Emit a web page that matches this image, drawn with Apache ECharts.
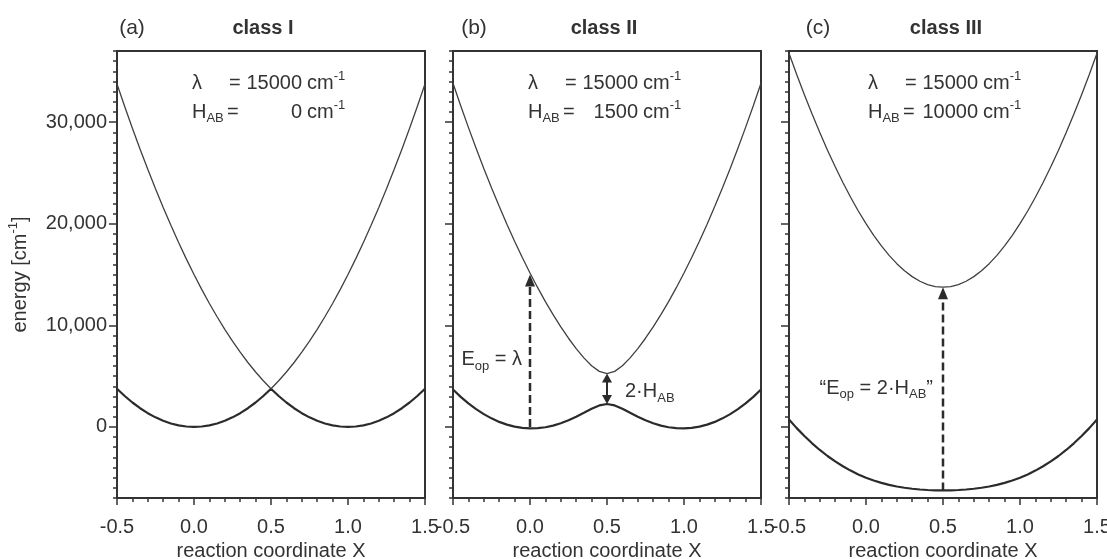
<!DOCTYPE html>
<html>
<head>
<meta charset="utf-8">
<script src="https://cdn.jsdelivr.net/npm/echarts@6/dist/echarts.min.js"></script>
<style>
  html, body { margin: 0; padding: 0; background: #fff; }
  #main { width: 1107px; height: 559px; }
</style>
</head>
<body>
<div id="main"></div>
<script>
// reaction coordinate X
const xValues = [-0.5, -0.45, -0.4, -0.35, -0.3, -0.25, -0.2, -0.15, -0.1, -0.05, 0,
  0.05, 0.1, 0.15, 0.2, 0.25, 0.3, 0.35, 0.4, 0.45, 0.5,
  0.55, 0.6, 0.65, 0.7, 0.75, 0.8, 0.85, 0.9, 0.95, 1,
  1.05, 1.1, 1.15, 1.2, 1.25, 1.3, 1.35, 1.4, 1.45, 1.5];

// (a) class I, H_AB = 0
const classILower = [3750, 3038, 2400, 1838, 1350, 938, 600, 338, 150, 38, 0,
  38, 150, 338, 600, 938, 1350, 1838, 2400, 3038, 3750,
  3038, 2400, 1838, 1350, 938, 600, 338, 150, 38, 0,
  38, 150, 338, 600, 938, 1350, 1838, 2400, 3038, 3750];
const classIUpper = [33750, 31538, 29400, 27338, 25350, 23438, 21600, 19838, 18150, 16538, 15000,
  13538, 12150, 10838, 9600, 8438, 7350, 6338, 5400, 4538, 3750,
  4538, 5400, 6338, 7350, 8438, 9600, 10838, 12150, 13538, 15000,
  16538, 18150, 19838, 21600, 23438, 25350, 27338, 29400, 31538, 33750];

// (b) class II, H_AB = 1500
const classIILower = [3675, 2959, 2317, 1750, 1257, 838, 493, 223, 26, -98, -149,
  -127, -35, 127, 357, 649, 996, 1383, 1779, 2110, 2250,
  2110, 1779, 1383, 996, 649, 357, 127, -35, -127, -149,
  -98, 26, 223, 493, 838, 1257, 1750, 2317, 2959, 3675];
const classIIUpper = [33825, 31616, 29483, 27425, 25443, 23537, 21707, 19952, 18274, 16673, 15149,
  13702, 12335, 11048, 9843, 8726, 7704, 6792, 6021, 5465, 5250,
  5465, 6021, 6792, 7704, 8726, 9843, 11048, 12335, 13702, 15149,
  16673, 18274, 19952, 21707, 23537, 25443, 27425, 29483, 31616, 33825];

// (c) class III, H_AB = 10000
const classIIILower = [722, -121, -900, -1616, -2271, -2865, -3400, -3879, -4304, -4676, -5000,
  -5277, -5512, -5707, -5866, -5993, -6090, -6163, -6212, -6241, -6250,
  -6241, -6212, -6163, -6090, -5993, -5866, -5707, -5512, -5277, -5000,
  -4676, -4304, -3879, -3400, -2865, -2271, -1616, -900, -121, 722];
const classIIIUpper = [36778, 34696, 32700, 30791, 28971, 27240, 25600, 24054, 22604, 21251, 20000,
  18852, 17812, 16882, 16066, 15368, 14790, 14338, 14012, 13816, 13750,
  13816, 14012, 14338, 14790, 15368, 16066, 16882, 17812, 18852, 20000,
  21251, 22604, 24054, 25600, 27240, 28971, 30791, 32700, 34696, 36778];

// arrows [x, yFrom, yTo]
const arrowEopB = [0, 0, 15000];
const arrowHabB = [0.5, 2250, 5250];
const arrowEopC = [0.5, -6250, 13750];

const yMajorTicks = [0, 10000, 20000, 30000];
const panelTags = ['(a)', '(b)', '(c)'];
const panelTitles = ['class I', 'class II', 'class III'];
const lambdaValues = ['15000', '15000', '15000'];
const habValues = ['0', '1500', '10000'];

const FONT = '"Liberation Sans", Arial, Helvetica, sans-serif';
const INK = '#333';

const grids = [
  { left: 117, top: 51, width: 308, height: 447 },
  { left: 453, top: 51, width: 308, height: 447 },
  { left: 789, top: 51, width: 308, height: 447 },
];

const chart = echarts.init(document.getElementById('main'));

const pairs = (ys) => xValues.map((x, i) => [x, ys[i]]);
const withComma = (v) => String(v).replace(/\B(?=(\d{3})+(?!\d))/g, ',');

const xAxes = grids.map((g, i) => ({
  type: 'value',
  gridIndex: i,
  min: -0.5,
  max: 1.5,
  interval: 0.5,
  name: 'reaction coordinate X',
  nameLocation: 'middle',
  nameGap: 41,
  nameTextStyle: { fontFamily: FONT, fontSize: 20, color: INK },
  axisLine: { onZero: false, lineStyle: { color: INK, width: 2 } },
  axisTick: { length: 7, lineStyle: { color: INK, width: 1.5 } },
  minorTick: { show: true, splitNumber: 5, length: 4, lineStyle: { color: INK, width: 1.5 } },
  axisLabel: { fontFamily: FONT, fontSize: 20, color: INK, margin: 19, formatter: (v) => v.toFixed(1) },
  splitLine: { show: false },
  minorSplitLine: { show: false },
}));

const yAxes = [];
grids.forEach((g, i) => {
  // minor ticks every 1000
  yAxes.push({
    type: 'value',
    gridIndex: i,
    min: -7000,
    max: 37000,
    interval: 1000,
    name: i === 0 ? 'energy [cm{sup|-1}]' : '',
    nameLocation: 'middle',
    nameGap: 84,
    nameTextStyle: {
      fontFamily: FONT, fontSize: 20, color: INK, lineHeight: 26,
      rich: { sup: { fontFamily: FONT, fontSize: 13, lineHeight: 14, color: INK, verticalAlign: 'top' } },
    },
    axisLine: { onZero: false, lineStyle: { color: INK, width: 2 } },
    axisTick: { length: 4, lineStyle: { color: INK, width: 1.5 } },
    axisLabel: {
      show: i === 0,
      customValues: yMajorTicks,
      fontFamily: FONT, fontSize: 20, color: INK, margin: 10,
      formatter: withComma,
    },
    splitLine: { show: false },
  });
  // major ticks
  yAxes.push({
    type: 'value',
    gridIndex: i,
    min: -7000,
    max: 37000,
    position: 'left',
    axisLine: { show: false, onZero: false },
    axisTick: { show: true, customValues: yMajorTicks, length: 8, lineStyle: { color: INK, width: 1.5 } },
    axisLabel: { show: false },
    splitLine: { show: false },
  });
});

const curveSets = [
  [classILower, classIUpper],
  [classIILower, classIIUpper],
  [classIIILower, classIIIUpper],
];

const series = [];
curveSets.forEach((set, i) => {
  series.push({
    type: 'line', xAxisIndex: i, yAxisIndex: 2 * i, data: pairs(set[0]),
    showSymbol: false, silent: true,
    lineStyle: { color: '#2b2b2b', width: 2.2 },
  });
  series.push({
    type: 'line', xAxisIndex: i, yAxisIndex: 2 * i, data: pairs(set[1]),
    showSymbol: false, silent: true,
    lineStyle: { color: '#404040', width: 1.3 },
  });
});

chart.setOption({
  animation: false,
  grid: grids.map((g) => Object.assign({
    show: true, borderColor: INK, borderWidth: 2, containLabel: false, outerBoundsMode: 'none',
  }, g)),
  xAxis: xAxes,
  yAxis: yAxes,
  series: series,
});

// ---- annotations ----
const px = (panel, x, y) => chart.convertToPixel({ seriesIndex: 2 * panel }, [x, y]);

const subRich = {
  sub: { fontFamily: FONT, fontSize: 13, lineHeight: 14, fill: INK, verticalAlign: 'bottom' },
  sup: { fontFamily: FONT, fontSize: 13, lineHeight: 14, fill: INK, verticalAlign: 'top' },
};
const txt = (x, y, text, align, extra) => ({
  type: 'text', x: x, y: y, silent: true,
  style: Object.assign({
    text: text, fill: INK, fontFamily: FONT, fontSize: 20, lineHeight: 26,
    align: align || 'left', verticalAlign: 'middle', rich: subRich,
  }, extra || {}),
});

const head = (tip, up, w, h) => ({
  type: 'polygon', silent: true,
  shape: { points: up
    ? [[tip[0], tip[1]], [tip[0] - w / 2, tip[1] + h], [tip[0] + w / 2, tip[1] + h]]
    : [[tip[0], tip[1]], [tip[0] - w / 2, tip[1] - h], [tip[0] + w / 2, tip[1] - h]] },
  style: { fill: '#2b2b2b' },
});

const dashedArrow = (panel, a) => {
  const p0 = px(panel, a[0], a[1]);
  const p1 = px(panel, a[0], a[2]);
  return [
    { type: 'line', silent: true,
      shape: { x1: p0[0], y1: p0[1], x2: p1[0], y2: p1[1] + 10 },
      style: { stroke: '#2b2b2b', lineWidth: 2.5, lineDash: [8, 4] } },
    head(p1, true, 10, 12),
  ];
};

const graphics = [];
grids.forEach((g, i) => {
  const tagX = [132, 474, 818][i];
  const titleX = [263, 604, 946][i];
  graphics.push(txt(tagX, 28, panelTags[i], 'center', { fontSize: 21 }));
  graphics.push(txt(titleX, 28, panelTitles[i], 'center', { fontWeight: 'bold' }));

  const x0 = g.left + [75, 75, 79][i];
  graphics.push(txt(x0, 83, 'λ'));
  graphics.push(txt(x0 + 37, 83, '='));
  graphics.push(txt(x0 + 110, 83, lambdaValues[i], 'right'));
  graphics.push(txt(x0 + 115, 83, 'cm{sup|-1}'));
  graphics.push(txt(x0, 112, 'H{sub|AB}'));
  graphics.push(txt(x0 + 35, 112, '='));
  graphics.push(txt(x0 + 110, 112, habValues[i], 'right'));
  graphics.push(txt(x0 + 115, 112, 'cm{sup|-1}'));
});

// panel (b): optical transition and splitting
dashedArrow(1, arrowEopB).forEach((e) => graphics.push(e));
const hLow = px(1, arrowHabB[0], arrowHabB[1]);
const hHigh = px(1, arrowHabB[0], arrowHabB[2]);
graphics.push({ type: 'line', silent: true,
  shape: { x1: hLow[0], y1: hLow[1] - 8, x2: hHigh[0], y2: hHigh[1] + 8 },
  style: { stroke: '#2b2b2b', lineWidth: 2 } });
graphics.push(head(hHigh, true, 10, 9));
graphics.push(head(hLow, false, 10, 9));

const eopB = px(1, 0, 6600);
graphics.push(txt(eopB[0] - 8, eopB[1], 'E{sub|op} = λ', 'right'));
const habB = px(1, 0.5, 3450);
graphics.push(txt(habB[0] + 18, habB[1], '2·H{sub|AB}'));

// panel (c)
dashedArrow(2, arrowEopC).forEach((e) => graphics.push(e));
const eopC = px(2, 0.5, 3800);
graphics.push(txt(eopC[0] - 10, eopC[1], '“E{sub|op} = 2·H{sub|AB}”', 'right'));

chart.setOption({ graphic: graphics });
</script>
</body>
</html>
